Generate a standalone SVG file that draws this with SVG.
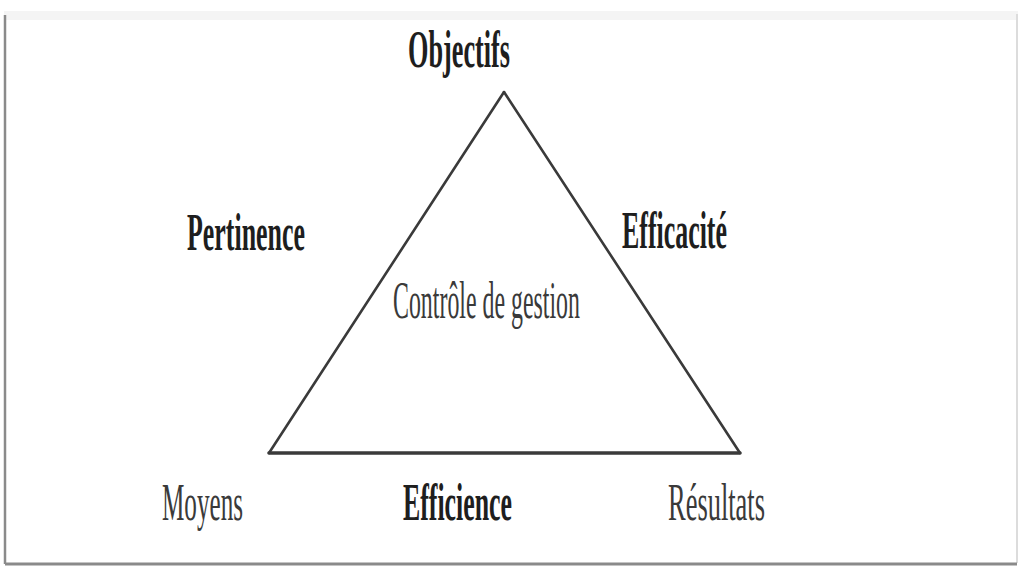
<svg xmlns="http://www.w3.org/2000/svg" width="1024" height="576" viewBox="0 0 1024 576">
<style>
text{font-family:"Liberation Serif","Times New Roman",serif;font-size:52px;fill:#1e1e1e}
.b{font-weight:bold}
.r{fill:#3a3a3a}
.edge{stroke:#3a3a3a;fill:none;stroke-linecap:round;stroke-linejoin:round}
</style>
<rect width="1024" height="576" fill="#fff"/>
<g id="frame">
<rect x="4" y="11" width="1014" height="9" fill="#f4f4f4"/>
<line x1="1017" y1="14" x2="1017" y2="563" stroke="#dcdcdc" stroke-width="2"/>
<line x1="5" y1="15" x2="5" y2="564" stroke="#8a8a8a" stroke-width="2.5"/>
<line x1="5" y1="564" x2="1017" y2="564" stroke="#8a8a8a" stroke-width="3"/>
</g>
<g id="connectors">
<line class="edge" x1="504" y1="92" x2="269" y2="453" stroke-width="2.6"/>
<line class="edge" x1="504" y1="92" x2="740" y2="453" stroke-width="2.6"/>
<line class="edge" x1="269" y1="453" x2="740" y2="453" stroke-width="3.5"/>
</g>
<g id="objectifs"><text class="b" x="408" y="67" textLength="102" lengthAdjust="spacingAndGlyphs">Objectifs</text></g>
<g id="pertinence"><text class="b" x="187" y="250" textLength="118" lengthAdjust="spacingAndGlyphs">Pertinence</text></g>
<g id="efficacite"><text class="b" x="622" y="248" textLength="105" lengthAdjust="spacingAndGlyphs">Efficacité</text></g>
<g id="controle"><text class="r" x="393" y="318" font-size="49" textLength="187" lengthAdjust="spacingAndGlyphs">Contrôle de gestion</text></g>
<g id="moyens"><text class="r" x="162" y="520" textLength="81" lengthAdjust="spacingAndGlyphs">Moyens</text></g>
<g id="efficience"><text class="b" x="403" y="520" textLength="109" lengthAdjust="spacingAndGlyphs">Efficience</text></g>
<g id="resultats"><text class="r" x="668" y="520" textLength="97" lengthAdjust="spacingAndGlyphs">Résultats</text></g>
</svg>
